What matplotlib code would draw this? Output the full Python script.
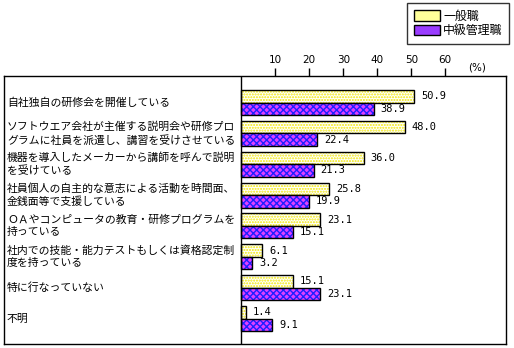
import matplotlib
matplotlib.use("Agg")
import matplotlib.pyplot as plt
import matplotlib.transforms as mtransforms
import numpy as np

plt.rcParams["font.family"] = ["Noto Sans CJK JP", "DejaVu Sans"]
plt.rcParams["hatch.linewidth"] = 1.0

categories = [
    "自社独自の研修会を開催している",
    "ソフトウエア会社が主催する説明会や研修プロ\nグラムに社員を派遣し、講習を受けさせている",
    "機器を導入したメーカーから講師を呼んで説明\nを受けている",
    "社員個人の自主的な意志による活動を時間面、\n金銭面等で支援している",
    "ＯＡやコンピュータの教育・研修プログラムを\n持っている",
    "社内での技能・能力テストもしくは資格認定制\n度を持っている",
    "特に行なっていない",
    "不明",
]
general_staff = [50.9, 48.0, 36.0, 25.8, 23.1, 6.1, 15.1, 1.4]
middle_managers = [38.9, 22.4, 21.3, 19.9, 15.1, 3.2, 23.1, 9.1]
series_names = ["一般職", "中級管理職"]
xticks = [10, 20, 30, 40, 50, 60]

W, H = 514, 348
fig = plt.figure(figsize=(W / 100, H / 100), dpi=100)

# frame spans the label column and the bar area; zero line splits them
left_px, right_px, top_px, bot_px = 4, 506, 76, 344
ax = fig.add_axes([left_px / W, 1 - bot_px / H,
                   (right_px - left_px) / W, (bot_px - top_px) / H])
px_per_unit = 3.4
zero_px = 241.3
ax.set_xlim((left_px - zero_px) / px_per_unit, (right_px - zero_px) / px_per_unit)
group_px = 30.86
first_center = 102.5
ax.set_ylim((bot_px - first_center) / group_px, (top_px - first_center) / group_px)

y = np.arange(len(categories))
h = 0.405
ax.barh(y - h / 2, general_staff, height=h, color="white", edgecolor="#f2e800",
        hatch="......", linewidth=0)
ax.barh(y - h / 2, general_staff, height=h, fill=False, edgecolor="black",
        linewidth=1.0)
ax.barh(y + h / 2, middle_managers, height=h, color="#e040ff", edgecolor="#2020ff",
        hatch="xxxxx", linewidth=0)
ax.barh(y + h / 2, middle_managers, height=h, fill=False, edgecolor="black",
        linewidth=1.0)

ax.axvline(0, color="black", linewidth=1.0)

for i, (a, b) in enumerate(zip(general_staff, middle_managers)):
    ax.annotate(f"{a:.1f}", (a, i - h / 2), xytext=(5, 0), textcoords="offset points",
                va="center", ha="left", fontsize=7.5, family="DejaVu Sans Mono")
    ax.annotate(f"{b:.1f}", (b, i + h / 2), xytext=(5, 0), textcoords="offset points",
                va="center", ha="left", fontsize=7.5, family="DejaVu Sans Mono")

label_tf = mtransforms.blended_transform_factory(ax.transAxes, ax.transData)
x_lab = (7 - left_px) / (right_px - left_px)
for i, lab in enumerate(categories):
    ax.text(x_lab, i, lab, transform=label_tf, ha="left", va="center",
            fontsize=7.8, linespacing=1.3)

ax.set_xticks(xticks)
ax.set_xticklabels([str(t) for t in xticks], family="DejaVu Sans", fontsize=7.5)
ax.xaxis.tick_top()
ax.tick_params(axis="x", direction="out", length=5.8, width=1.0, pad=2)
ax.set_yticks([])
for s in ax.spines.values():
    s.set_linewidth(1.0)

fig.text(477 / W, 1 - 68 / H, "(%)", ha="center", va="center", fontsize=7.5,
         family="DejaVu Sans")

handles = [
    (ax.patches[0], ax.patches[len(categories)]),
]
from matplotlib.patches import Patch
leg_handles = [
    Patch(facecolor="#ffff9a", edgecolor="black", linewidth=1.0),
    Patch(facecolor="#9a3cff", edgecolor="black", linewidth=1.0),
]
leg = fig.legend(leg_handles, series_names, loc="upper right",
                 bbox_to_anchor=(509 / W, 1 - 3 / H), fontsize=8.6,
                 frameon=True, fancybox=False, edgecolor="black",
                 handlelength=2.2, handleheight=0.95, labelspacing=0.15,
                 handletextpad=0.25, borderpad=0.55, borderaxespad=0)
leg.get_frame().set_linewidth(1.0)

fig.savefig("out.png", dpi=100)
